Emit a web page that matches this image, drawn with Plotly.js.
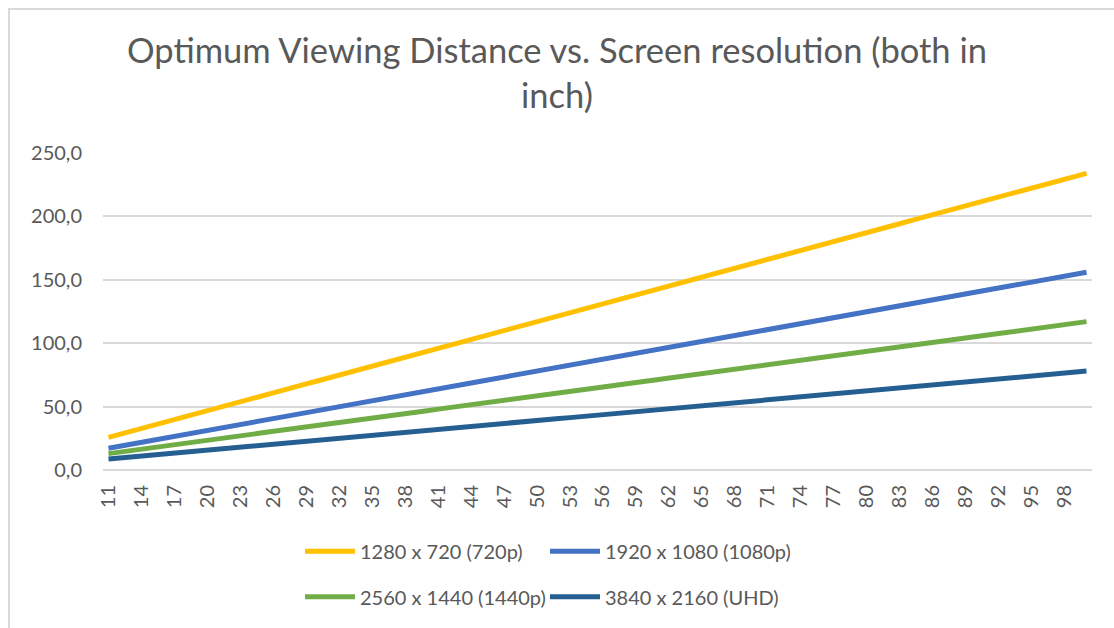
<!DOCTYPE html>
<html>
<head>
<meta charset="utf-8">
<script src="https://cdn.plot.ly/plotly-3.0.1.min.js"></script>
<style>
html,body{margin:0;padding:0;background:#fff;overflow:hidden;}
#chart{position:absolute;left:0;top:0;width:1114px;height:628px;}
#frame{position:absolute;left:8px;top:8px;width:1200px;height:700px;border:2px solid #d9d9d9;box-sizing:border-box;pointer-events:none;}
</style>
</head>
<body>
<div id="chart"></div>
<div id="frame"></div>
<script>
const screenSizes = [11,12,13,14,15,16,17,18,19,20,21,22,23,24,25,26,27,28,29,30,31,32,33,34,35,36,37,38,39,40,41,42,43,44,45,46,47,48,49,50,51,52,53,54,55,56,57,58,59,60,61,62,63,64,65,66,67,68,69,70,71,72,73,74,75,76,77,78,79,80,81,82,83,84,85,86,87,88,89,90,91,92,93,94,95,96,97,98,99,100];

const tickLabels = [11,14,17,20,23,26,29,32,35,38,41,44,47,50,53,56,59,62,65,68,71,74,77,80,83,86,89,92,95,98];

const dist720p = [25.7,28.1,30.4,32.8,35.1,37.4,39.8,42.1,44.5,46.8,49.1,51.5,53.8,56.2,58.5,60.8,63.2,65.5,67.9,70.2,72.5,74.9,77.2,79.6,81.9,84.2,86.6,88.9,91.3,93.6,95.9,98.3,100.6,103.0,105.3,107.6,110.0,112.3,114.7,117.0,119.3,121.7,124.0,126.4,128.7,131.0,133.4,135.7,138.1,140.4,142.7,145.1,147.4,149.8,152.1,154.4,156.8,159.1,161.5,163.8,166.1,168.5,170.8,173.2,175.5,177.8,180.2,182.5,184.9,187.2,189.5,191.9,194.2,196.6,198.9,201.2,203.6,205.9,208.3,210.6,212.9,215.3,217.6,220.0,222.3,224.6,227.0,229.3,231.7,234.0];

const dist1080p = [17.2,18.7,20.3,21.8,23.4,25.0,26.5,28.1,29.6,31.2,32.8,34.3,35.9,37.4,39.0,40.6,42.1,43.7,45.2,46.8,48.4,49.9,51.5,53.0,54.6,56.2,57.7,59.3,60.8,62.4,64.0,65.5,67.1,68.6,70.2,71.8,73.3,74.9,76.4,78.0,79.6,81.1,82.7,84.2,85.8,87.4,88.9,90.5,92.0,93.6,95.2,96.7,98.3,99.8,101.4,103.0,104.5,106.1,107.6,109.2,110.8,112.3,113.9,115.4,117.0,118.6,120.1,121.7,123.2,124.8,126.4,127.9,129.5,131.0,132.6,134.2,135.7,137.3,138.8,140.4,142.0,143.5,145.1,146.6,148.2,149.8,151.3,152.9,154.4,156.0];

const dist1440p = [12.9,14.0,15.2,16.4,17.6,18.7,19.9,21.1,22.2,23.4,24.6,25.7,26.9,28.1,29.3,30.4,31.6,32.8,33.9,35.1,36.3,37.4,38.6,39.8,41.0,42.1,43.3,44.5,45.6,46.8,48.0,49.1,50.3,51.5,52.7,53.8,55.0,56.2,57.3,58.5,59.7,60.8,62.0,63.2,64.4,65.5,66.7,67.9,69.0,70.2,71.4,72.5,73.7,74.9,76.1,77.2,78.4,79.6,80.7,81.9,83.1,84.2,85.4,86.6,87.8,88.9,90.1,91.3,92.4,93.6,94.8,95.9,97.1,98.3,99.5,100.6,101.8,103.0,104.1,105.3,106.5,107.6,108.8,110.0,111.2,112.3,113.5,114.7,115.8,117.0];

const distUHD = [8.6,9.4,10.1,10.9,11.7,12.5,13.3,14.0,14.8,15.6,16.4,17.2,17.9,18.7,19.5,20.3,21.1,21.8,22.6,23.4,24.2,25.0,25.7,26.5,27.3,28.1,28.9,29.6,30.4,31.2,32.0,32.8,33.5,34.3,35.1,35.9,36.7,37.4,38.2,39.0,39.8,40.6,41.3,42.1,42.9,43.7,44.5,45.2,46.0,46.8,47.6,48.4,49.1,49.9,50.7,51.5,52.3,53.0,53.8,54.6,55.4,56.2,56.9,57.7,58.5,59.3,60.1,60.8,61.6,62.4,63.2,64.0,64.7,65.5,66.3,67.1,67.9,68.6,69.4,70.2,71.0,71.8,72.5,73.3,74.1,74.9,75.7,76.4,77.2,78.0];

const seriesNames = ['1280 x 720 (720p)','1920 x 1080 (1080p)','2560 x 1440 (1440p)','3840 x 2160 (UHD)'];
const seriesColors = ['#FFC000','#4472C4','#70AD47','#255E91'];
const seriesData = [dist720p, dist1080p, dist1440p, distUHD];
const seriesLegend = ['legend','legend','legend2','legend2'];

const FONT = 'Lato, "Open Sans", sans-serif';
const TXT = '#595959';

const traces = seriesData.map((ys, i) => ({
  type: 'scatter',
  mode: 'lines',
  x: screenSizes,
  y: ys,
  name: seriesNames[i],
  line: {color: seriesColors[i], width: 5},
  legend: seriesLegend[i],
  hoverinfo: 'x+y+name'
}));

// plot geometry: y-axis labels anchored at paper x=0, plot area starts at page x=103
const ML = 82, MR = 22, PW = 1114 - ML - MR;
const xStart = (103 - ML) / PW;
const paperX = px => (px - ML) / PW;

const legendCommon = {
  orientation: 'h',
  xref: 'paper', yref: 'paper',
  xanchor: 'left', yanchor: 'middle',
  entrywidth: 180, entrywidthmode: 'pixels',
  itemwidth: 50,
  font: {family: FONT, size: 20, color: TXT},
  bgcolor: 'rgba(0,0,0,0)',
  traceorder: 'normal'
};

const layout = {
  width: 1114, height: 628,
  margin: {l: ML, r: MR, t: 153, b: 155},
  paper_bgcolor: '#ffffff',
  plot_bgcolor: '#ffffff',
  separators: ', ',
  font: {family: FONT, color: TXT},
  title: {
    text: 'Optimum Viewing Distance vs. Screen resolution (both in<br>inch)',
    font: {family: FONT, size: 34.5, color: TXT},
    x: 0.5, xref: 'container', xanchor: 'center',
    y: 1 - 63/628, yref: 'container', yanchor: 'middle'
  },
  xaxis: {
    type: 'category',
    domain: [xStart, 1],
    range: [-0.5, 89.5],
    tickmode: 'array',
    tickvals: tickLabels,
    ticktext: tickLabels.map(String),
    tickangle: -90,
    tickfont: {family: FONT, size: 20, color: TXT},
    showgrid: false,
    showline: false,
    zeroline: false,
    ticks: '',
    ticklabelstandoff: 10
  },
  yaxis: {
    anchor: 'free',
    position: 0,
    range: [0, 250],
    dtick: 50,
    tick0: 0,
    tickformat: '.1f',
    tickfont: {family: FONT, size: 20, color: TXT},
    showgrid: true,
    gridcolor: '#D9D9D9',
    gridwidth: 1.5,
    zeroline: true,
    zerolinecolor: '#D9D9D9',
    zerolinewidth: 1.5,
    showline: false,
    ticks: ''
  },
  legend: Object.assign({}, legendCommon, {x: paperX(300), y: (473-555)/320}),
  legend2: Object.assign({}, legendCommon, {x: paperX(300), y: (473-601)/320}),
  showlegend: true
};

Plotly.newPlot('chart', traces, layout, {displayModeBar: false, responsive: false});
</script>
</body>
</html>
